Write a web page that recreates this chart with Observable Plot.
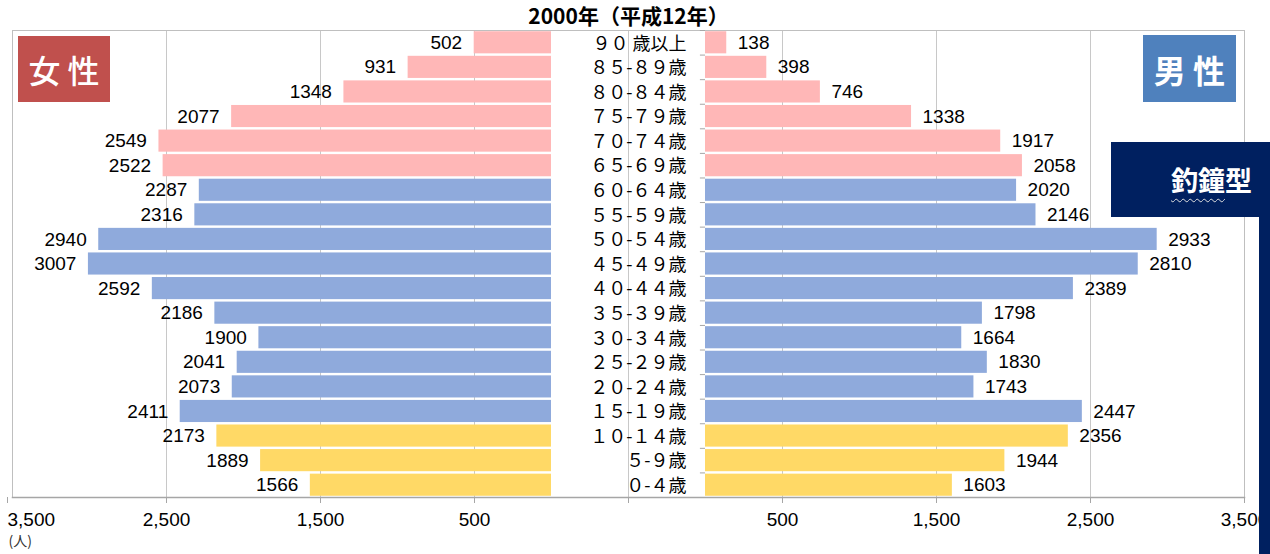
<!DOCTYPE html>
<html>
<head>
<meta charset="utf-8">
<script src="https://cdn.jsdelivr.net/npm/d3@7"></script>
<script src="https://cdn.jsdelivr.net/npm/@observablehq/plot@0.6"></script>
<style>
  html, body { margin: 0; padding: 0; background: #fff; }
  #wrap { position: relative; width: 1270px; height: 554px; overflow: hidden; }
  #wrap svg { position: absolute; left: 0; top: 0; }
  .box { position: absolute; color: #fff; display: flex; align-items: center; justify-content: center;
         font-family: "Noto Sans CJK JP", sans-serif; }
</style>
</head>
<body>
<div id="wrap"></div>
<script>
// ---- data (bottom to top) ----
const ages = ["０-４歳","５-９歳","１０-１４歳","１５-１９歳","２０-２４歳","２５-２９歳","３０-３４歳",
  "３５-３９歳","４０-４４歳","４５-４９歳","５０-５４歳","５５-５９歳","６０-６４歳","６５-６９歳",
  "７０-７４歳","７５-７９歳","８０-８４歳","８５-８９歳","９０ 歳以上"];
const female = [1566,1889,2173,2411,2073,2041,1900,2186,2592,3007,2940,2316,2287,2522,2549,2077,1348,931,502];
const male   = [1603,1944,2356,2447,1743,1830,1664,1798,2389,2810,2933,2146,2020,2058,1917,1338,746,398,138];
const groups = ["年少","年少","年少","生産","生産","生産","生産","生産","生産","生産","生産","生産","生産",
  "老年","老年","老年","老年","老年","老年"];
const tickValues = [-4000,-3000,-2000,-1000,0,1000,2000,3000,4000];
const tickLabels = ["3,500","2,500","1,500","500","","500","1,500","2,500","3,500"];
const title = "2000年（平成12年）";
const unitLabel = "(人)";

const gap = 500;
const rows = ages.map((a, i) => ({age: a, f: female[i], m: male[i], g: groups[i]}));

const W = 1270, H = 554, mT = 30, mB = 57, mL = 12, mR = 26;
const step = (H - mT - mB) / ages.length;
const numFont = "'Liberation Sans', Arial, sans-serif";
const cjkFont = "'Noto Sans CJK JP', sans-serif";
const fmt = d => tickLabels[tickValues.indexOf(d)];

const chart = Plot.plot({
  width: W, height: H,
  marginTop: mT, marginBottom: mB, marginLeft: mL, marginRight: mR,
  x: {domain: [-4000, 4000], axis: null},
  y: {domain: ages.slice().reverse(), axis: null, paddingInner: 0.1, paddingOuter: 0.05, round: false},
  color: {domain: ["年少","生産","老年"], range: ["#FFD966","#8FAADC","#FFB7B7"]},
  style: {fontFamily: numFont, fontSize: "19px", color: "#000", background: "transparent"},
  marks: [
    Plot.ruleX(tickValues.slice(1, -1), {stroke: "#C8C8C8", strokeWidth: 1}),
    Plot.frame({stroke: "#BFBFBF"}),
    Plot.barX(rows, {y: "age", x1: -gap, x2: d => -(gap + d.f), fill: "g"}),
    Plot.barX(rows, {y: "age", x1: gap, x2: d => gap + d.m, fill: "g"}),
    Plot.ruleY(ages, {y: d => d, x1: 467, x2: gap, dy: -step / 2, stroke: "#A6A6A6"}),
    Plot.text(rows, {y: "age", x: d => -(gap + d.f), text: d => String(d.f), textAnchor: "end", dx: -12,
      fill: "#000", fontSize: 19}),
    Plot.text(rows, {y: "age", x: d => gap + d.m, text: d => String(d.m), textAnchor: "start", dx: 11,
      fill: "#000", fontSize: 19}),
    Plot.text(rows, {y: "age", x: gap, text: "age", textAnchor: "end", dx: -19, dy: 1, fill: "#000",
      fontFamily: cjkFont, fontSize: 18}),
    Plot.frame({anchor: "bottom", stroke: "#A6A6A6", strokeWidth: 1.5}),
    Plot.axisX({ticks: tickValues.slice(1), tickFormat: fmt, tickSize: 6,
      tickPadding: 9, fontSize: 19, stroke: "#A6A6A6", fill: "#000"}),
    Plot.axisX({ticks: tickValues.slice(0, 1), tickFormat: fmt, tickSize: 6, textAnchor: "start", dx: -5,
      tickPadding: 9, fontSize: 19, stroke: "#A6A6A6", fill: "#000"}),
    Plot.text([title], {frameAnchor: "top", lineAnchor: "middle", dy: -13, fontWeight: "bold", fontSize: 21,
      fill: "#000", fontFamily: cjkFont}),
    Plot.text([unitLabel], {frameAnchor: "bottom-left", dx: -4, dy: 48, textAnchor: "start", fontSize: 14,
      fill: "#333", fontFamily: cjkFont})
  ]
});

const wrap = document.getElementById("wrap");
wrap.appendChild(chart);

function addBox(text, style, html) {
  const d = document.createElement("div");
  d.className = "box";
  Object.assign(d.style, style);
  if (html) d.innerHTML = html; else d.textContent = text;
  wrap.appendChild(d);
  return d;
}
addBox("女 性", {left: "18px", top: "36px", width: "92px", height: "66px", background: "#C0504D",
  fontSize: "32px", fontWeight: "500"});
addBox("男 性", {left: "1143px", top: "35px", width: "93px", height: "67px", background: "#4F81BD",
  fontSize: "32px", fontWeight: "bold"});
addBox("", {left: "1259px", top: "217px", width: "20px", height: "340px", background: "#002060"});
addBox("", {left: "1111px", top: "142px", width: "170px", height: "75px", background: "#002060",
  fontSize: "27px", fontWeight: "bold", justifyContent: "flex-start", paddingLeft: "60px", boxSizing: "border-box"},
  '<span><span style="text-decoration: underline wavy #ddd; text-decoration-thickness: 1px; text-underline-offset: 7px;">釣鐘</span>型</span>');
</script>
</body>
</html>
